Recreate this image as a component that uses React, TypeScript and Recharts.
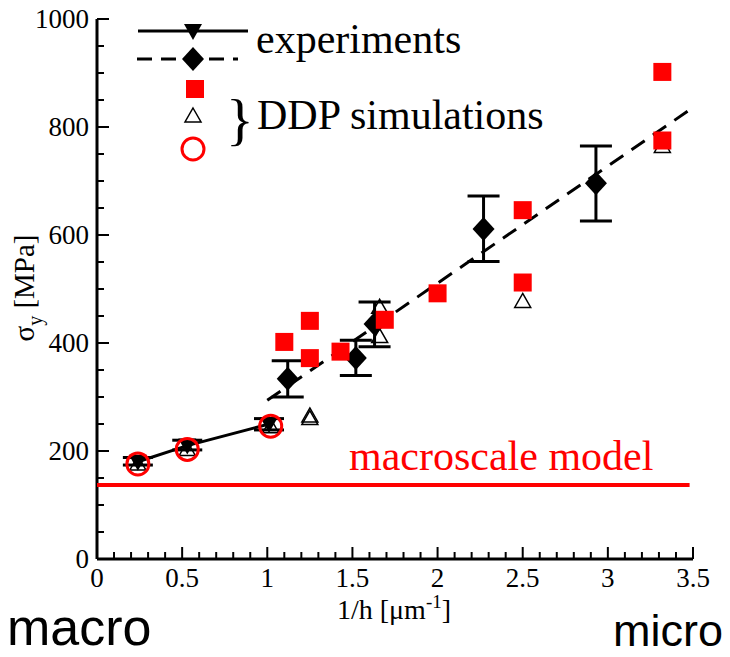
import React from 'react'
import { ScatterChart, Scatter, XAxis, YAxis, ErrorBar } from 'recharts'

// experiments, thin films (solid line, down triangles)
const expSolidX = [0.24, 0.53, 1.01]
const expSolidY = [180, 210, 250]
const expSolidErr = [[6, 8], [8, 10], [11, 10]]

// experiments, micro pillars (dashed fit, diamonds)
const expDashX = [1.12, 1.52, 1.63, 2.27, 2.93]
const expDashY = [334, 372, 435, 611, 696]
const expDashErr = [[34, 33], [32, 33], [42, 41], [60, 61], [70, 69]]

const fitX = [1.0, 3.5]
const fitY = [294, 836]

// DDP simulations
const squareX = [1.1, 1.25, 1.25, 1.43, 1.69, 2.0, 2.5, 2.5, 3.32, 3.32]
const squareY = [402, 441, 372, 384, 443, 492, 646, 512, 902, 775]
const triX = [0.24, 0.53, 1.02, 1.25, 1.25, 1.66, 1.66, 2.5, 3.32]
const triY = [176, 203, 245, 260, 265, 466, 412, 477, 764]
const circleX = [0.24, 0.53, 1.02]
const circleY = [176, 203, 246]

// macroscale model
const macroX = [0, 3.48]
const macroY = [137, 137]

const xTicks = Array.from({ length: 36 }, (_, i) => i / 10)
const yTicks = Array.from({ length: 21 }, (_, i) => i * 50)

const W = 730
const H = 657
const PLOT_LEFT = 97
const PLOT_BOTTOM = 559
const SERIF = "'Liberation Serif', 'Times New Roman', Times, serif"
const SANS = "'Liberation Sans', Arial, sans-serif"

const pts = (xs: number[], ys: number[], errs?: number[][]) =>
  xs.map((x, i) => ({ x, y: ys[i], err: errs ? errs[i] : undefined }))

const serif = (size: number) => ({ fontFamily: SERIF, fontSize: size })

const DownTri = ({ cx, cy }: any) => (
  <polygon points={`${cx - 9},${cy - 7} ${cx + 9},${cy - 7} ${cx},${cy + 9}`} fill='#000' />
)
const Diamond = ({ cx, cy }: any) => (
  <polygon points={`${cx},${cy - 12} ${cx + 11},${cy} ${cx},${cy + 12} ${cx - 11},${cy}`} fill='#000' />
)
const Square = ({ cx, cy }: any) => <rect x={cx - 9} y={cy - 9} width={18} height={18} fill='#f00' />
const OpenTri = ({ cx, cy }: any) => (
  <polygon
    points={`${cx},${cy - 8} ${cx + 8},${cy + 6} ${cx - 8},${cy + 6}`}
    fill='none'
    stroke='#000'
    strokeWidth={1.5}
  />
)
const Ring = ({ cx, cy }: any) => <circle cx={cx} cy={cy} r={11} fill='none' stroke='#f00' strokeWidth={3} />
const NoDot = () => <g />

function XTick({ payload }: any) {
  const c = payload.coordinate
  const v = payload.value
  const major = Math.abs(v * 2 - Math.round(v * 2)) < 1e-6
  return (
    <g>
      <line x1={c} x2={c} y1={PLOT_BOTTOM} y2={PLOT_BOTTOM - (major ? 12 : 7)} stroke='#000' strokeWidth={2} />
      {major && (
        <text x={c} y={PLOT_BOTTOM + 28} textAnchor='middle' style={serif(27)} fill='#000'>
          {String(v)}
        </text>
      )}
    </g>
  )
}

function YTick({ payload }: any) {
  const c = payload.coordinate
  const v = payload.value
  const major = v % 200 === 0
  return (
    <g>
      <line x1={PLOT_LEFT} x2={PLOT_LEFT + (major ? 12 : 7)} y1={c} y2={c} stroke='#000' strokeWidth={2} />
      {major && (
        <text x={PLOT_LEFT - 8} y={c + 9} textAnchor='end' style={serif(27)} fill='#000'>
          {String(v)}
        </text>
      )}
    </g>
  )
}

export default function App() {
  return (
    <div style={{ position: 'absolute', left: 0, top: 0, width: W, height: H, background: '#fff' }}>
      <ScatterChart width={W} height={H} margin={{ top: 19, right: 37, bottom: 0, left: 0 }}>
        <XAxis
          type='number'
          dataKey='x'
          domain={[0, 3.5]}
          ticks={xTicks}
          interval={0}
          height={98}
          tickLine={false}
          axisLine={{ stroke: '#000', strokeWidth: 3 }}
          tick={<XTick />}
        />
        <YAxis
          type='number'
          dataKey='y'
          domain={[0, 1000]}
          ticks={yTicks}
          interval={0}
          width={97}
          tickLine={false}
          axisLine={{ stroke: '#000', strokeWidth: 3 }}
          tick={<YTick />}
        />
        <Scatter
          data={pts(macroX, macroY)}
          line={{ stroke: '#f00', strokeWidth: 4 }}
          lineType='joint'
          shape={NoDot}
          isAnimationActive={false}
        />
        <Scatter
          data={pts(fitX, fitY)}
          line={{ stroke: '#000', strokeWidth: 3, strokeDasharray: '16 10' }}
          lineType='joint'
          shape={NoDot}
          isAnimationActive={false}
        />
        <Scatter
          data={pts(expSolidX, expSolidY, expSolidErr)}
          line={{ stroke: '#000', strokeWidth: 3 }}
          lineType='joint'
          shape={DownTri}
          isAnimationActive={false}
        >
          <ErrorBar dataKey='err' direction='y' width={15} stroke='#000' strokeWidth={3} />
        </Scatter>
        <Scatter data={pts(expDashX, expDashY, expDashErr)} shape={Diamond} isAnimationActive={false}>
          <ErrorBar dataKey='err' direction='y' width={16} stroke='#000' strokeWidth={3} />
        </Scatter>
        <Scatter data={pts(triX, triY)} shape={OpenTri} isAnimationActive={false} />
        <Scatter data={pts(squareX, squareY)} shape={Square} isAnimationActive={false} />
        <Scatter data={pts(circleX, circleY)} shape={Ring} isAnimationActive={false} />
      </ScatterChart>

      <svg width={W} height={H} style={{ position: 'absolute', left: 0, top: 0, pointerEvents: 'none' }}>
        {/* legend */}
        <line x1={138} x2={248} y1={31} y2={31} stroke='#000' strokeWidth={3} />
        <DownTri cx={193} cy={31} />
        <line x1={137} x2={238} y1={59} y2={59} stroke='#000' strokeWidth={3} strokeDasharray='15 9' />
        <Diamond cx={193} cy={59} />
        <text x={256} y={53} style={serif(42)} fill='#000'>experiments</text>
        <Square cx={195} cy={89} />
        <OpenTri cx={193} cy={116} />
        <Ring cx={193} cy={149} />
        <text x={226} y={139} style={serif(58)} fill='#000'>{'}'}</text>
        <text x={257} y={129} style={serif(42)} fill='#000'>DDP simulations</text>

        <text x={349} y={470} style={serif(42)} fill='#f00'>macroscale model</text>

        {/* axis titles */}
        <text x={394} y={619} textAnchor='middle' style={serif(28)} fill='#000'>
          1/h [μm<tspan dy={-11} fontSize={19}>-1</tspan>
          <tspan dy={11}>]</tspan>
        </text>
        <text transform='rotate(-90 34 288)' x={34} y={288} textAnchor='middle' style={serif(29)} fill='#000'>
          σ<tspan dy={8} fontSize={20}>y</tspan>
          <tspan dy={-8}> [MPa]</tspan>
        </text>

        <text x={7} y={645} style={{ fontFamily: SANS, fontSize: 52 }} fill='#000'>macro</text>
        <text x={613} y={646} style={{ fontFamily: SANS, fontSize: 45 }} fill='#000'>micro</text>
      </svg>
    </div>
  )
}
